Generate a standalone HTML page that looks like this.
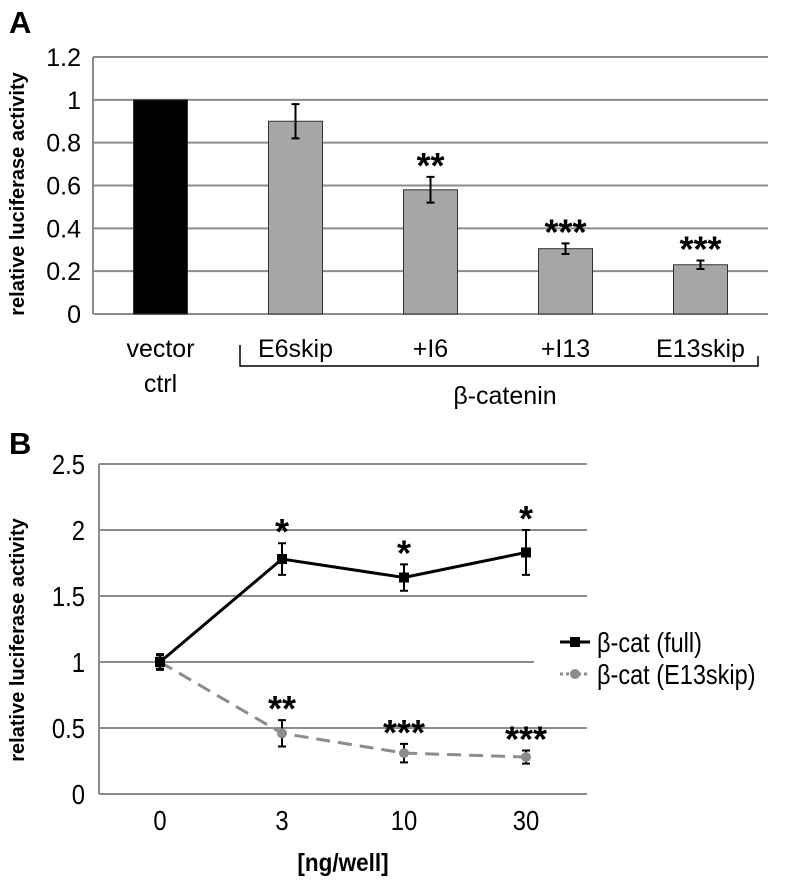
<!DOCTYPE html>
<html><head><meta charset="utf-8"><style>
body{margin:0;background:#fff;}
svg{display:block;font-family:"Liberation Sans",Arial,sans-serif;}
</style></head><body>
<svg id="chart" width="786" height="880" viewBox="0 0 786 880" xmlns="http://www.w3.org/2000/svg">
<g id="pa"></g>
<g id="pb"></g>
</svg>
<script>
const NS="http://www.w3.org/2000/svg";
// Panel A data
const aCats=["vector\nctrl","E6skip","+I6","+I13","E13skip"];
const aVals=[1,0.9,0.58,0.305,0.23];
const aErrs=[0,0.08,0.06,0.025,0.02];
const aStars=["","","**","***","***"];
const aTicks=[0,0.2,0.4,0.6,0.8,1,1.2];
// Panel B data
const bCats=["0","3","10","30"];
const bFull=[1,1.78,1.64,1.83];
const bFullErr=[0.06,0.12,0.1,0.17];
const bFullStars=["","*","*","*"];
const bSkip=[1,0.46,0.31,0.28];
const bSkipErr=[0.05,0.1,0.07,0.05];
const bSkipStars=["","**","***","***"];
const bTicks=[0,0.5,1,1.5,2,2.5];

function mk(p,tag,attrs,txt){const e=document.createElementNS(NS,tag);for(const k in attrs)e.setAttribute(k,attrs[k]);if(txt!=null)e.textContent=txt;p.appendChild(e);return e;}

// ---- Panel A ----
const A=document.getElementById('pa');
const aL=93,aR=768,aT=57,aB=314,aMax=1.2;
const aw=(aR-aL)/aCats.length;
const ay=v=>aB-(v/aMax)*(aB-aT);
const ax=i=>aL+aw*(i+0.5);
let e=mk(A,'text',{x:9,y:33,'font-size':31,'font-weight':'bold'},'A');

aTicks.forEach(t=>{
 let g=mk(A,'line',{x1:aL,x2:aR,y1:ay(t),y2:ay(t),stroke:'#8c8c8c','stroke-width':2});
 
 let l=mk(A,'text',{x:81,y:ay(t)+9,'font-size':25,'text-anchor':'end'},String(t));
 
});
e=mk(A,'line',{x1:aL,x2:aL,y1:aT,y2:aB,stroke:'#8c8c8c','stroke-width':2});

e=mk(A,'text',{x:0,y:0,'font-size':20,'font-weight':'bold','text-anchor':'middle',transform:'translate(24,194) rotate(-90)'},'relative luciferase activity');

aVals.forEach((v,i)=>{
 const bw=54;
 let r=mk(A,'rect',{x:ax(i)-bw/2,y:ay(v),width:bw,height:aB-ay(v),fill:i==0?'#000':'#a6a6a6',stroke:'#333','stroke-width':1});
 
 if(aErrs[i]>0){
  const x=ax(i),t=ay(v+aErrs[i]),b=ay(v-aErrs[i]);
  let p=mk(A,'path',{d:`M${x},${t}V${b}M${x-4},${t}H${x+4}M${x-4},${b}H${x+4}`,stroke:'#000','stroke-width':2,fill:'none'});
  
 }
 if(aStars[i]){
  let s=mk(A,'text',{x:ax(i),y:ay(v+aErrs[i])+1,'font-size':36,'font-weight':'bold','text-anchor':'middle'},aStars[i]);
  
 }
 const lines=aCats[i].split('\n');
 lines.forEach((ln,k)=>{
  let c=mk(A,'text',{x:ax(i),y:357+k*35,'font-size':25,'text-anchor':'middle'},ln);
  
 });
});
e=mk(A,'path',{d:'M240,345V366H758V356',stroke:'#000','stroke-width':1.5,fill:'none'});

e=mk(A,'text',{x:505,y:404,'font-size':25,'text-anchor':'middle'},'β-catenin');


// ---- Panel B ----
const B=document.getElementById('pb');
const bL=99,bR=587,bT=464,bBt=794,bMax=2.5;
const bw2=(bR-bL)/bCats.length;
const by=v=>bBt-(v/bMax)*(bBt-bT);
const bx=i=>bL+bw2*(i+0.5);
e=mk(B,'text',{x:9,y:454,'font-size':31,'font-weight':'bold'},'B');

bTicks.forEach(t=>{
 let g=mk(B,'line',{x1:bL,x2:t==1?534:bR,y1:by(t),y2:by(t),stroke:'#8c8c8c','stroke-width':2});
 
 let l=mk(B,'text',{x:0,y:0,'font-size':28,'text-anchor':'end',transform:`translate(85,${by(t)+10}) scale(0.85,1)`},String(t));
 
});
e=mk(B,'line',{x1:bL,x2:bL,y1:bT,y2:bBt,stroke:'#8c8c8c','stroke-width':2});

e=mk(B,'text',{x:0,y:0,'font-size':20,'font-weight':'bold','text-anchor':'middle',transform:'translate(24,640) rotate(-90)'},'relative luciferase activity');

bCats.forEach((c,i)=>{
 let t=mk(B,'text',{x:0,y:0,'font-size':28,'text-anchor':'middle',transform:`translate(${bx(i)},830) scale(0.85,1)`},c);
 
});
e=mk(B,'text',{x:0,y:0,'font-size':25,'font-weight':'bold','text-anchor':'middle',transform:'translate(343,871) scale(0.9,1)'},'[ng/well]');


function series(vals,errs,stars,color,dash,marker,name){
 const d=vals.map((v,i)=>(i?'L':'M')+bx(i)+','+by(v)).join('');
 let p=mk(B,'path',{d:d,stroke:color,'stroke-width':3,fill:'none','stroke-dasharray':dash||'none'});
 
 vals.forEach((v,i)=>{
  const x=bx(i),t=by(v+errs[i]),b=by(v-errs[i]);
  let eb=mk(B,'path',{d:`M${x},${t}V${b}M${x-4},${t}H${x+4}M${x-4},${b}H${x+4}`,stroke:'#000','stroke-width':2,fill:'none'});
  
  let m;
  if(marker=='sq') m=mk(B,'rect',{x:x-5,y:by(v)-5,width:10,height:10,fill:color});
  else m=mk(B,'circle',{cx:x,cy:by(v),r:5,fill:color});
  
  if(stars[i]){
   let s=mk(B,'text',{x:x,y:t+1,'font-size':36,'font-weight':'bold','text-anchor':'middle'},stars[i]);
   
  }
 });
}
series(bSkip,bSkipErr,bSkipStars,'#8c8c8c','14,8','circ','e13skip');
series(bFull,bFullErr,bFullStars,'#000',null,'sq','full');

// legend
e=mk(B,'g',{});
let le=mk(e,'g',{});
mk(le,'line',{x1:560,x2:590,y1:642,y2:642,stroke:'#000','stroke-width':3});
mk(le,'rect',{x:570,y:637,width:10,height:10,fill:'#000'});
mk(le,'text',{x:0,y:0,'font-size':28,transform:'translate(597,652) scale(0.84,1)'},'β-cat (full)');
le=mk(e,'g',{});
mk(le,'line',{x1:560,x2:590,y1:674,y2:674,stroke:'#8c8c8c','stroke-width':3,'stroke-dasharray':'3,3'});
mk(le,'circle',{cx:575,cy:674,r:5,fill:'#8c8c8c'});
mk(le,'text',{x:0,y:0,'font-size':28,transform:'translate(597,684) scale(0.84,1)'},'β-cat (E13skip)');
</script>
</body></html>
